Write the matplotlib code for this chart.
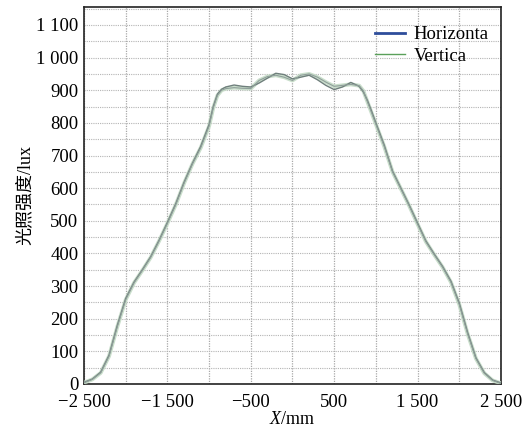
import numpy as np
import matplotlib
matplotlib.use("Agg")
import matplotlib.pyplot as plt
from matplotlib.lines import Line2D
from matplotlib.ticker import FuncFormatter, MultipleLocator

plt.rcParams['font.family'] = ['Liberation Serif', 'Noto Sans CJK SC']
plt.rcParams['axes.unicode_minus'] = True
plt.rcParams['mathtext.fontset'] = 'custom'
plt.rcParams['mathtext.it'] = 'Liberation Serif:italic'
plt.rcParams['mathtext.rm'] = 'Liberation Serif'

# Posiciones (mm) y valores de iluminancia (lux)
pos_mm = [-2500, -2400, -2300, -2200, -2100, -2000, -1900, -1800, -1700, -1600,
          -1500, -1400, -1300, -1200, -1100, -1000, -950, -900, -850, -800,
          -700, -600, -500, -400, -300, -200, -100, 0, 100, 200,
          300, 400, 500, 600, 700, 800, 850, 900, 950, 1000,
          1100, 1200, 1300, 1400, 1500, 1600, 1700, 1800, 1900, 2000,
          2100, 2200, 2300, 2400, 2500]

horizontal = [5, 15, 36, 88, 180, 262, 312, 350, 390, 440,
              495, 552, 618, 676, 728, 795, 850, 888, 903, 910,
              916, 912, 910, 922, 937, 952, 948, 935, 940, 946,
              932, 915, 902, 910, 924, 912, 895, 868, 835, 800,
              732, 652, 600, 548, 493, 438, 398, 360, 315, 248,
              158, 80, 35, 12, 3]

vertical = [4, 14, 34, 85, 176, 258, 310, 348, 388, 438,
            492, 549, 615, 674, 724, 790, 846, 884, 900, 905,
            908, 906, 905, 930, 942, 946, 940, 930, 946, 950,
            940, 925, 912, 915, 918, 914, 898, 864, 830, 796,
            728, 650, 598, 546, 490, 436, 396, 358, 312, 244,
            154, 78, 33, 11, 2]

x_ticks = [-2500, -1500, -500, 500, 1500, 2500]
y_ticks = list(range(0, 1101, 100))


def fmt_miles(v, pos=None):
    # separador de miles con espacio, signo menos tipográfico
    s = f"{abs(int(v)):,}".replace(",", " ")
    return ("\u2212" + s) if v < 0 else s


fig = plt.figure(figsize=(5.24, 4.33), dpi=100)
ax = fig.add_axes([0.1603, 0.1132, 0.7957, 0.8706])

ax.plot(pos_mm, vertical, color='#c4dbc6', lw=2.8, alpha=0.9, zorder=3,
        solid_joinstyle='round')
ax.plot(pos_mm, horizontal, color='#6f7f7c', lw=1.0, zorder=4,
        solid_joinstyle='round')
ax.plot(pos_mm, vertical, color='#909f9b', lw=0.8, zorder=4,
        solid_joinstyle='round')

ax.set_xlim(-2500, 2500)
ax.set_ylim(0, 1155)
ax.set_xticks(x_ticks)
ax.set_yticks(y_ticks)
ax.xaxis.set_minor_locator(MultipleLocator(500))
ax.yaxis.set_minor_locator(MultipleLocator(50))
ax.xaxis.set_major_formatter(FuncFormatter(fmt_miles))
ax.yaxis.set_major_formatter(FuncFormatter(fmt_miles))
ax.tick_params(which='both', length=0, labelsize=13.5)
ax.tick_params(axis='x', pad=7)
ax.tick_params(axis='y', pad=4)

ax.grid(True, which='both', axis='x', color='#a8a8a8', ls=(0, (1, 1)), lw=0.9)
ax.grid(True, which='both', axis='y', color='#b4b4b4', ls=(0, (1, 1)), lw=0.8)
ax.set_axisbelow(True)

for sp in ax.spines.values():
    sp.set_linewidth(1.2)
    sp.set_color('#222222')

ax.set_xlabel('$X$/mm', fontsize=13, labelpad=0)
ax.set_ylabel('光照强度/lux', fontsize=13, labelpad=2)

handles = [Line2D([], [], color='#2e4d9b', lw=2.0),
           Line2D([], [], color='#5aa05a', lw=1.0)]
ax.legend(handles, ['Horizonta', 'Vertica'], loc='upper right', frameon=False,
          fontsize=13.5, handlelength=1.6, handletextpad=0.45, labelspacing=0.25,
          borderaxespad=0.2, borderpad=0.45, bbox_to_anchor=(1.0, 0.982))

fig.savefig('out.png', dpi=100)
